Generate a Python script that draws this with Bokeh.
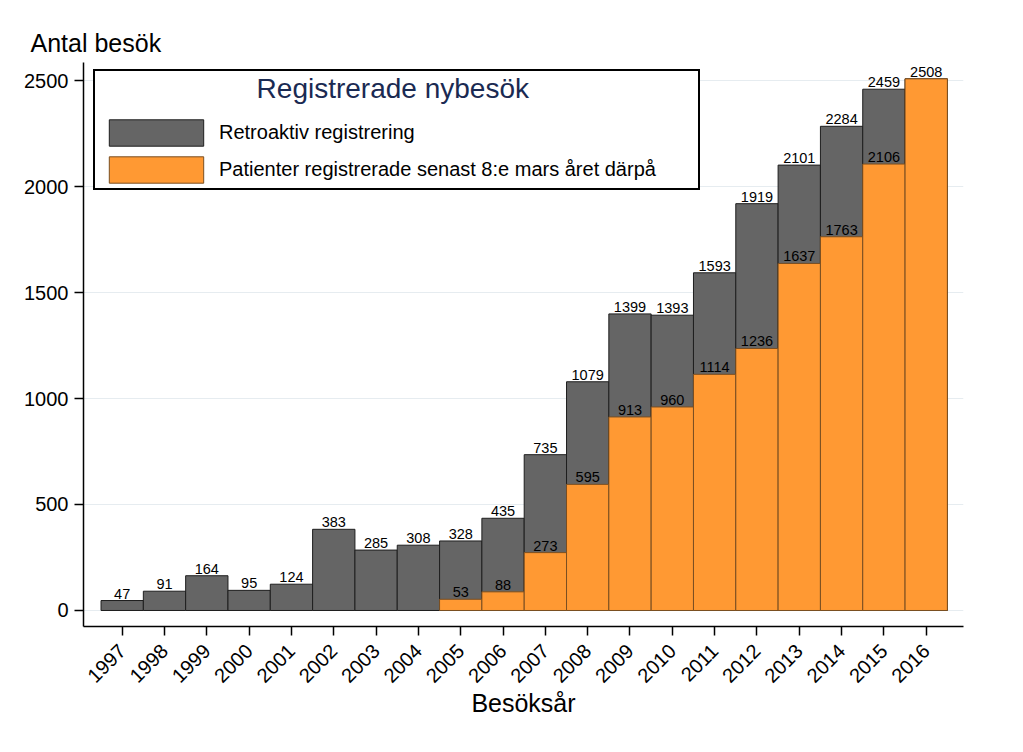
from math import pi
from bokeh.plotting import figure
from bokeh.models import (ColumnDataSource, Legend, LegendItem, Title,
                          FixedTicker, Range1d)
from bokeh.core.properties import value
from bokeh.embed import file_html
from bokeh.resources import INLINE

# ---------------- data ----------------
years = [1997, 1998, 1999, 2000, 2001, 2002, 2003, 2004, 2005, 2006,
         2007, 2008, 2009, 2010, 2011, 2012, 2013, 2014, 2015, 2016]
total = [47, 91, 164, 95, 124, 383, 285, 308, 328, 435,
         735, 1079, 1399, 1393, 1593, 1919, 2101, 2284, 2459, 2508]
registered = [0, 0, 0, 0, 0, 0, 0, 0, 53, 88,
              273, 595, 913, 960, 1114, 1236, 1637, 1763, 2106, 2508]
y_ticks = [0, 500, 1000, 1500, 2000, 2500]
y_label = "Antal besök"
x_label = "Besöksår"
legend_title = "Registrerade nybesök"
series_names = ["Retroaktiv registrering",
                "Patienter registrerade senast 8:e mars året därpå"]

GRAY = "#656565"
ORANGE = "#ff9933"
FONT = "Liberation Sans"
# em/en/thin spaces used to centre the legend title inside the legend box
TITLE_PAD = "\u2003" * 5 + "\u2002" + "\u2009"

# ---------------- sources ----------------
tot_src = ColumnDataSource(dict(x=years, top=total,
                                lbl=[str(v) for v in total]))
reg_x = [y for y, r in zip(years, registered) if r > 0]
reg_v = [r for r in registered if r > 0]
reg_src = ColumnDataSource(dict(x=reg_x, top=reg_v))
rl_x = [y for y, r, t in zip(years, registered, total) if 0 < r < t]
rl_v = [r for r, t in zip(registered, total) if 0 < r < t]
rl_src = ColumnDataSource(dict(x=rl_x, y=rl_v, lbl=[str(v) for v in rl_v]))

# ---------------- figure ----------------
p = figure(width=1023, height=752, output_backend="svg", toolbar_location=None,
           x_range=Range1d(1996.086, 2016.881), y_range=Range1d(-75.5, 2585),
           min_border_left=83, min_border_top=62, min_border_right=60,
           min_border_bottom=126)
p.outline_line_color = None
p.background_fill_color = "white"
p.border_fill_color = "white"

gray_r = p.vbar(x="x", top="top", bottom=0, width=1, source=tot_src,
                fill_color=GRAY, line_color="#1e1e1e", line_width=1)
orange_r = p.vbar(x="x", top="top", bottom=0, width=1, source=reg_src,
                  fill_color=ORANGE, line_color="#7a4f22", line_width=1)

p.text(x="x", y="top", text="lbl", source=tot_src, text_align="center",
       text_baseline="bottom", y_offset=-2, text_font=value(FONT),
       text_font_size="14.5px", text_color="black")
p.text(x="x", y="y", text="lbl", source=rl_src, text_align="center",
       text_baseline="bottom", y_offset=-2, text_font=value(FONT),
       text_font_size="14.5px", text_color="black")

# axes
p.yaxis.ticker = FixedTicker(ticks=y_ticks)
p.xaxis.ticker = FixedTicker(ticks=years)
for ax in (p.xaxis[0], p.yaxis[0]):
    ax.axis_line_color = "black"
    ax.axis_line_width = 1.5
    ax.major_tick_line_color = "black"
    ax.major_tick_line_width = 1.5
    ax.major_tick_out = 9
    ax.major_tick_in = 0
    ax.minor_tick_line_color = None
    ax.major_label_text_font = FONT
    ax.major_label_text_font_size = "20px"
    ax.major_label_text_color = "black"
p.yaxis.major_label_standoff = 6
p.xaxis.major_label_standoff = 12
p.xaxis.major_label_orientation = pi / 4
p.xaxis.axis_label = x_label
p.xaxis.axis_label_text_font = FONT
p.xaxis.axis_label_text_font_size = "25px"
p.xaxis.axis_label_text_font_style = "normal"
p.xaxis.axis_label_text_color = "black"
p.xaxis.axis_label_standoff = -3

p.xgrid.grid_line_color = None
p.ygrid.ticker = FixedTicker(ticks=y_ticks)
p.ygrid.grid_line_color = "#e6ecf0"
p.ygrid.grid_line_width = 1

# y label at top-left
p.add_layout(Title(text=y_label, align="left", offset=-53, standoff=12,
                   text_font=FONT, text_font_size="25px",
                   text_font_style="normal", text_color="black"), "above")

# legend
legend = Legend(items=[LegendItem(label=series_names[0], renderers=[gray_r]),
                       LegendItem(label=series_names[1], renderers=[orange_r])],
                location=(10, 436), title=TITLE_PAD + legend_title,
                title_text_font=FONT, title_text_font_size="28px",
                title_text_color="#1a2a52", title_text_font_style="normal",
                title_standoff=11,
                padding=2, spacing=4, glyph_width=118, glyph_height=33,
                label_standoff=4, label_width=477, margin=0,
                label_text_font=FONT, label_text_font_size="20px",
                label_text_color="black",
                border_line_color="black", border_line_width=2,
                border_line_alpha=1,
                background_fill_color="white", background_fill_alpha=1)
p.add_layout(legend)

open("out.html", "w").write(file_html(p, INLINE))
